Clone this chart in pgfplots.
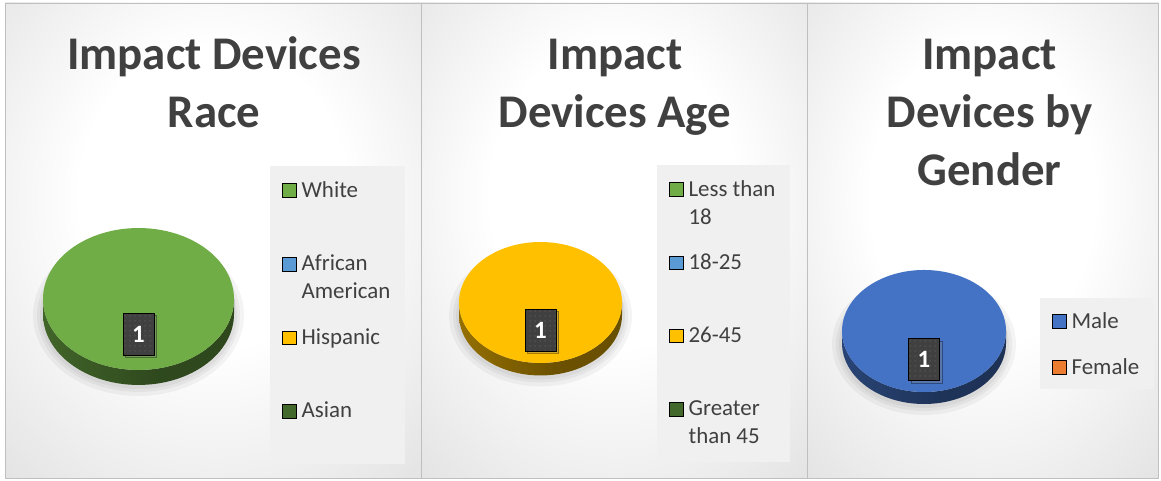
\documentclass[border=0pt]{standalone}
\usepackage{pgfplots}
\pgfplotsset{compat=1.18}
\usepackage{fontspec}
\setmainfont{Carlito}
\usetikzlibrary{patterns.meta,shadows}

\definecolor{txt}{HTML}{404040}
\definecolor{legbg}{HTML}{F0F0F0}
\definecolor{labbg}{HTML}{404040}
\definecolor{labdot}{HTML}{5C5C5C}
\definecolor{cgreen}{HTML}{70AD47}
\definecolor{cblue}{HTML}{5B9BD5}
\definecolor{cgold}{HTML}{FFC000}
\definecolor{cdkgreen}{HTML}{43682B}
\definecolor{cmale}{HTML}{4472C4}
\definecolor{cfemale}{HTML}{ED7D31}

% panel background and pie side shadings
\pgfdeclareradialshading{panelshade}{\pgfpoint{0bp}{6bp}}{color(0bp)=(white); color(16bp)=(white); color(72bp)=(black!28)}
\pgfdeclarehorizontalshading{greenside}{100bp}{color(0bp)=(cgreen!72!black); color(55bp)=(cgreen!42!black); color(100bp)=(cgreen!40!black)}
\pgfdeclarehorizontalshading{goldside}{100bp}{color(0bp)=(cgold!72!black); color(55bp)=(cgold!42!black); color(100bp)=(cgold!40!black)}
\pgfdeclarehorizontalshading{blueside}{100bp}{color(0bp)=(cmale!72!black); color(55bp)=(cmale!45!black); color(100bp)=(cmale!42!black)}

% a one-slice (100%) 3D pie drawn as a mark: radius = mark size
\pgfdeclareplotmark{disc}{%
  \pgfscope
  \pgfmathsetlengthmacro\discry{\discratio*\pgfplotmarksize}%
  \pgfsetfillcolor{black}%
  \foreach \g in {3,6,10}{%
    \pgfsetfillopacity{0.045}%
    \pgfpathellipse{\pgfpoint{0pt}{-\discdepth-1pt}}{\pgfpoint{\pgfplotmarksize+\g pt}{0pt}}{\pgfpoint{0pt}{\discry+\g pt}}%
    \pgfusepath{fill}}%
  \pgfsetfillopacity{1}%
  \pgfpathmoveto{\pgfpoint{-\pgfplotmarksize}{0pt}}%
  \pgfpathlineto{\pgfpoint{-\pgfplotmarksize}{-\discdepth}}%
  \pgfpatharc{180}{360}{\pgfplotmarksize and \discry}%
  \pgfpathlineto{\pgfpoint{\pgfplotmarksize}{0pt}}%
  \pgfpatharc{0}{-180}{\pgfplotmarksize and \discry}%
  \pgfpathclose
  \pgfshadepath{\discside}{0}%
  \pgfusepath{discard}%
  \pgfpathellipse{\pgfpointorigin}{\pgfpoint{\pgfplotmarksize}{0pt}}{\pgfpoint{0pt}{\discry}}%
  \pgfsetfillcolor{\disctop}%
  \pgfusepath{fill}%
  \endpgfscope
}

\newcommand\tfont{\fontsize{47}{58}\selectfont\bfseries}
\newcommand\lent[2]{\parbox[t]{#1}{\strut #2}}
\tikzset{lrow/.style 2 args={text height=#1, text depth=#2}}

\pgfplotsset{
  pieaxis/.style={
    x=1bp, y=1bp, xmin=-90, xmax=90, ymin=-90, ymax=90,
    hide axis, clip=false, anchor=center,
    legend image code/.code={\fill[##1] (0bp,0bp) rectangle (14bp,13.5bp);},
    legend style={draw=none, fill=legbg, anchor=north west,
      inner xsep=12bp, inner ysep=9.4bp, column sep=3bp, row sep=0pt,
      cells={anchor=base west, inner sep=0pt},
      font=\fontsize{23}{28}\selectfont, text=txt},
  },
  pielabel/.style={
    nodes near coords, point meta=explicit symbolic,
    every node near coord/.append style={anchor=center, yshift=-#1,
      fill=labbg, postaction={pattern={Dots[distance=5bp,radius=0.75bp]}, pattern color=labdot},
      drop shadow={opacity=0.35, shadow xshift=2.5bp, shadow yshift=-2.5bp},
      minimum width=31bp, minimum height=42bp, inner sep=0pt,
      text=white, font=\fontsize{25}{28}\selectfont\bfseries},
  },
}

\begin{document}
\begin{tikzpicture}[x=1bp, y=1bp]
\path (0,0) rectangle (1161,481);

% panels
\foreach \a/\b in {5/421, 421/807, 807/1158}{
  \shade[shading=panelshade] (\a,3) rectangle (\b,478);
  \draw[black!25, line width=0.8bp] (\a,3) rectangle (\b,478);
}

% titles
\node[anchor=base, font=\tfont, text=txt] at (214,411) {Impact Devices};
\node[anchor=base, font=\tfont, text=txt] at (214,353) {Race};
\node[anchor=base, font=\tfont, text=txt] at (615,411) {Impact};
\node[anchor=base, font=\tfont, text=txt] at (615,353) {Devices Age};
\node[anchor=base, font=\tfont, text=txt] at (989.5,411) {Impact};
\node[anchor=base, font=\tfont, text=txt] at (989.5,353) {Devices by};
\node[anchor=base, font=\tfont, text=txt] at (989.5,295) {Gender};

% ---- Race: White 1, African American 0, Hispanic 0, Asian 0
\def\disctop{cgreen}\def\discside{greenside}\def\discratio{0.743}\def\discdepth{15bp}
\begin{axis}[pieaxis, at={(138.5bp,182bp)},
  legend style={at={(axis cs:131.5,133)}}]
  \addplot[forget plot, only marks, mark=disc, mark size=95.5bp, pielabel=35bp]
    coordinates {(0,0) [1]};
  \addlegendimage{fill=cgreen}\addlegendentry[lrow={19.6bp}{50bp}]{\lent{89bp}{White}}
  \addlegendimage{fill=cblue}\addlegendentry[lrow={19.6bp}{50bp}]{\lent{89bp}{African\\American}}
  \addlegendimage{fill=cgold}\addlegendentry[lrow={19.6bp}{50bp}]{\lent{89bp}{Hispanic}}
  \addlegendimage{fill=cdkgreen}\addlegendentry[lrow={19.6bp}{34.6bp}]{\lent{89bp}{Asian}}
\end{axis}

% ---- Age: Less than 18 0, 18-25 0, 26-45 1, Greater than 45 0
\def\disctop{cgold}\def\discside{goldside}\def\discratio{0.742}\def\discdepth{12.5bp}
\begin{axis}[pieaxis, at={(540.5bp,178.5bp)},
  legend style={at={(axis cs:116.5,137.5)}}]
  \addplot[forget plot, only marks, mark=disc, mark size=81.5bp, pielabel=27.5bp]
    coordinates {(0,0) [1]};
  \addlegendimage{fill=cgreen}\addlegendentry[lrow={19.6bp}{49.6bp}]{\lent{87bp}{Less than\\18}}
  \addlegendimage{fill=cblue}\addlegendentry[lrow={19.6bp}{49.6bp}]{\lent{87bp}{18-25}}
  \addlegendimage{fill=cgold}\addlegendentry[lrow={19.6bp}{49.6bp}]{\lent{87bp}{26-45}}
  \addlegendimage{fill=cdkgreen}\addlegendentry[lrow={19.6bp}{34.6bp}]{\lent{87bp}{Greater\\than 45}}
\end{axis}

% ---- Gender: Male 1, Female 0
\def\disctop{cmale}\def\discside{blueside}\def\discratio{0.744}\def\discdepth{12bp}
\begin{axis}[pieaxis, at={(924bp,150bp)},
  legend style={at={(axis cs:116,33)}, inner ysep=8.4bp}]
  \addplot[forget plot, only marks, mark=disc, mark size=82bp, pielabel=28.5bp]
    coordinates {(0,0) [1]};
  \addlegendimage{fill=cmale}\addlegendentry[lrow={19.6bp}{22.4bp}]{\lent{68bp}{Male}}
  \addlegendimage{fill=cfemale}\addlegendentry[lrow={19.6bp}{4bp}]{\lent{68bp}{Female}}
\end{axis}
\end{tikzpicture}
\end{document}
